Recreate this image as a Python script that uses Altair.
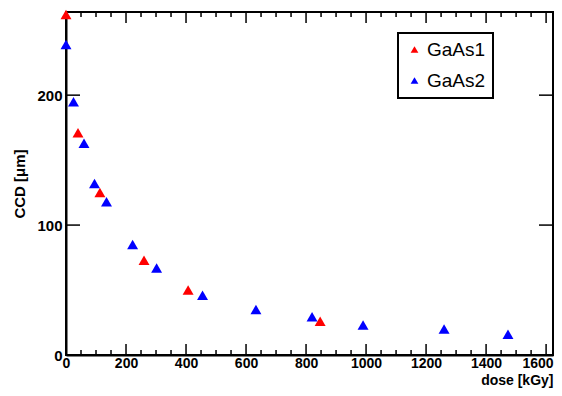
import altair as alt
import pandas as pd

# ---- data ----
series_names = ["GaAs1", "GaAs2"]
series_colors = ["#ff0000", "#0000ff"]

gaas1_dose = [0, 40, 113, 260, 407, 847]
gaas1_ccd = [262, 171, 125, 73, 50, 26]

gaas2_dose = [0, 25, 60, 95, 135, 222, 302, 455, 633, 820, 990, 1260, 1473]
gaas2_ccd = [239, 195, 163, 132, 118, 85, 67, 46, 35, 29.5, 23, 20, 16]

x_major = [0, 200, 400, 600, 800, 1000, 1200, 1400, 1600]
x_minor = [v for v in range(50, 1600, 50) if v % 200 != 0]
y_major = [0, 100, 200]

W, H = 487, 343
FONT = "Liberation Sans"

df = pd.DataFrame({
    "dose": gaas1_dose + gaas2_dose,
    "ccd": gaas1_ccd + gaas2_ccd,
    "series": [series_names[0]] * len(gaas1_dose) + [series_names[1]] * len(gaas2_dose),
})

xs = alt.Scale(domain=[0, 1623], nice=False, zero=False)
ys = alt.Scale(domain=[0, 264], nice=False, zero=False)

x_axis = alt.Axis(
    values=x_major, format="d", ticks=False, tickSize=0, grid=False,
    domainColor="black", domainWidth=2,
    labelFont=FONT, labelFontSize=14, labelFontWeight="bold", labelColor="black",
    labelPadding=1, labelFlush=False, labelOverlap=False,
    labelAlign={"condition": {"test": "datum.value >= 1600", "value": "right"}, "value": "center"},
    labelOffset={"condition": {"test": "datum.value >= 1600", "value": 7}, "value": 0},
    title="dose [kGy]", titleFont=FONT, titleFontSize=14, titleFontWeight="bold",
    titleColor="black", titleAnchor="end", titleBaseline="alphabetic", titleY=29,
)
y_axis = alt.Axis(
    values=y_major, format="d", ticks=False, tickSize=0, grid=False,
    domainColor="black", domainWidth=2,
    labelFont=FONT, labelFontSize=15, labelFontWeight="bold", labelColor="black",
    labelPadding=4, labelFlush=False, labelOverlap=False,
    title="CCD [μm]", titleFont=FONT, titleFontSize=15, titleFontWeight="bold",
    titleColor="black", titleAngle=270, titleBaseline="middle", titleX=-47,
)

points = alt.Chart(df).mark_point(
    shape="triangle-up", filled=True, size=120, opacity=1
).encode(
    x=alt.X("dose:Q", scale=xs, axis=x_axis),
    y=alt.Y("ccd:Q", scale=ys, axis=y_axis),
    color=alt.Color("series:N", scale=alt.Scale(domain=series_names, range=series_colors),
                    legend=alt.Legend(
                        title=None, orient="none", legendX=332, legendY=21,
                        strokeColor="black", fillColor="white", padding=7,
                        rowPadding=11, labelFont=FONT, labelFontSize=19, labelColor="black",
                        symbolType="triangle-up", symbolSize=60, symbolStrokeWidth=0,
                        labelOffset=3,
                    )),
)

def xticks(vals, y0, y1):
    return alt.Chart(pd.DataFrame({"dose": vals})).mark_rule(color="black", strokeWidth=1.5).encode(
        x=alt.X("dose:Q", scale=xs, axis=x_axis), y=alt.value(y0), y2=alt.value(y1))

def yticks(vals, x0, x1):
    return alt.Chart(pd.DataFrame({"ccd": vals})).mark_rule(color="black", strokeWidth=1.5).encode(
        y=alt.Y("ccd:Q", scale=ys, axis=y_axis), x=alt.value(x0), x2=alt.value(x1))

chart = alt.layer(
    xticks(x_major, H, H - 11),
    xticks(x_minor, H, H - 5),
    xticks(x_major, 0, 11),
    xticks(x_minor, 0, 5),
    yticks(y_major, 0, 14),
    yticks(y_major, W, W - 14),
    points,
).properties(
    width=W, height=H,
    autosize=alt.AutoSizeParams(type="none"),
    padding={"left": 58, "top": 4, "right": 1, "bottom": 33},
).configure_view(
    stroke="black", strokeWidth=2
).configure_axis(grid=False).configure_legend(strokeWidth=2)

chart.save("out.html", embed_options={"renderer": "svg", "actions": False})
